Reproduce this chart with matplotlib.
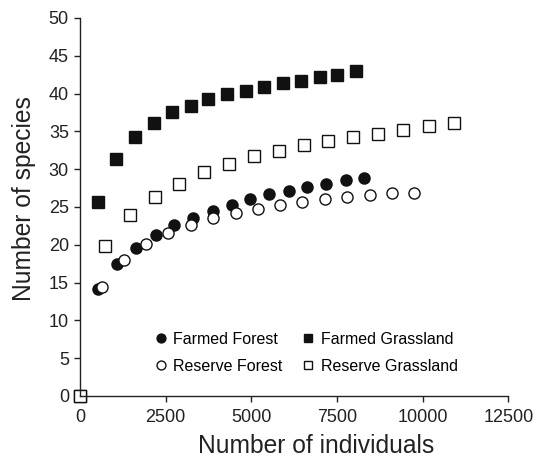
import matplotlib
matplotlib.use("Agg")
from matplotlib import pyplot as plt

plt.rcParams['font.family'] = ['Liberation Sans', 'DejaVu Sans']

# individuals vs species
ff_x = [0, 534, 1087, 1641, 2216, 2749, 3303, 3878, 4423, 4956, 5501, 6085, 6627, 7172, 7746, 8289]
ff_y = [0, 14.2, 17.5, 19.6, 21.3, 22.6, 23.6, 24.5, 25.3, 26.0, 26.7, 27.1, 27.7, 28.1, 28.6, 28.9]

fg_x = [0, 516, 1058, 1603, 2149, 2691, 3236, 3741, 4286, 4831, 5373, 5910, 6452, 6997, 7501, 8047]
fg_y = [0, 25.7, 31.4, 34.3, 36.1, 37.5, 38.4, 39.3, 39.9, 40.4, 40.9, 41.4, 41.7, 42.2, 42.5, 43.0]

rf_x = [0, 633, 1283, 1924, 2574, 3227, 3878, 4539, 5181, 5831, 6481, 7134, 7793, 8446, 9096, 9746]
rf_y = [0, 14.4, 18.0, 20.1, 21.5, 22.6, 23.5, 24.2, 24.7, 25.2, 25.7, 26.0, 26.3, 26.6, 26.8, 26.9]

rg_x = [0, 729, 1458, 2187, 2895, 3624, 4353, 5073, 5793, 6522, 7239, 7968, 8697, 9426, 10175, 10904]
rg_y = [0, 19.8, 24.0, 26.3, 28.1, 29.6, 30.7, 31.7, 32.4, 33.2, 33.7, 34.3, 34.7, 35.2, 35.7, 36.1]

xticks = [0, 2500, 5000, 7500, 10000, 12500]
yticks = list(range(0, 51, 5))

ink = '#111111'

fig = plt.figure(figsize=(5.39, 4.58), dpi=100)
ax = fig.add_axes([0.1484, 0.1354, 0.7950, 0.8253])

ax.plot(ff_x, ff_y, 'o', ms=8, mfc=ink, mec=ink, label='Farmed Forest', clip_on=False)
ax.plot(rf_x, rf_y, 'o', ms=8, mfc='white', mec=ink, mew=1.0, label='Reserve Forest', clip_on=False)
ax.plot(fg_x, fg_y, 's', ms=8, mfc=ink, mec=ink, label='Farmed Grassland', clip_on=False)
ax.plot(rg_x, rg_y, 's', ms=8, mfc='white', mec=ink, mew=1.0, label='Reserve Grassland', clip_on=False)

ax.set_xlim(0, 12500)
ax.set_ylim(0, 50)
ax.set_xticks(xticks)
ax.set_yticks(yticks)
ax.spines['top'].set_visible(False)
ax.spines['right'].set_visible(False)
for s in ['left', 'bottom']:
    ax.spines[s].set_color('#222222')
    ax.spines[s].set_linewidth(1.0)
ax.tick_params(direction='out', length=4.5, width=1.0, color='#222222', labelsize=13, labelcolor='#222222')
ax.tick_params(axis='x', pad=5)

ax.set_xlabel('Number of individuals', fontsize=17.7, color='#222222', labelpad=5.5, x=0.551)
ax.set_ylabel('Number of species', fontsize=17.7, color='#222222', labelpad=9, y=0.522)

ax.legend(loc='center', bbox_to_anchor=(0.568, 0.230), bbox_transform=fig.transFigure,
          ncol=2, frameon=False, fontsize=11.5, handlelength=0.8, handletextpad=0.4,
          columnspacing=1.2, labelspacing=0.75, markerscale=0.8)

fig.savefig('out.png', dpi=100)
